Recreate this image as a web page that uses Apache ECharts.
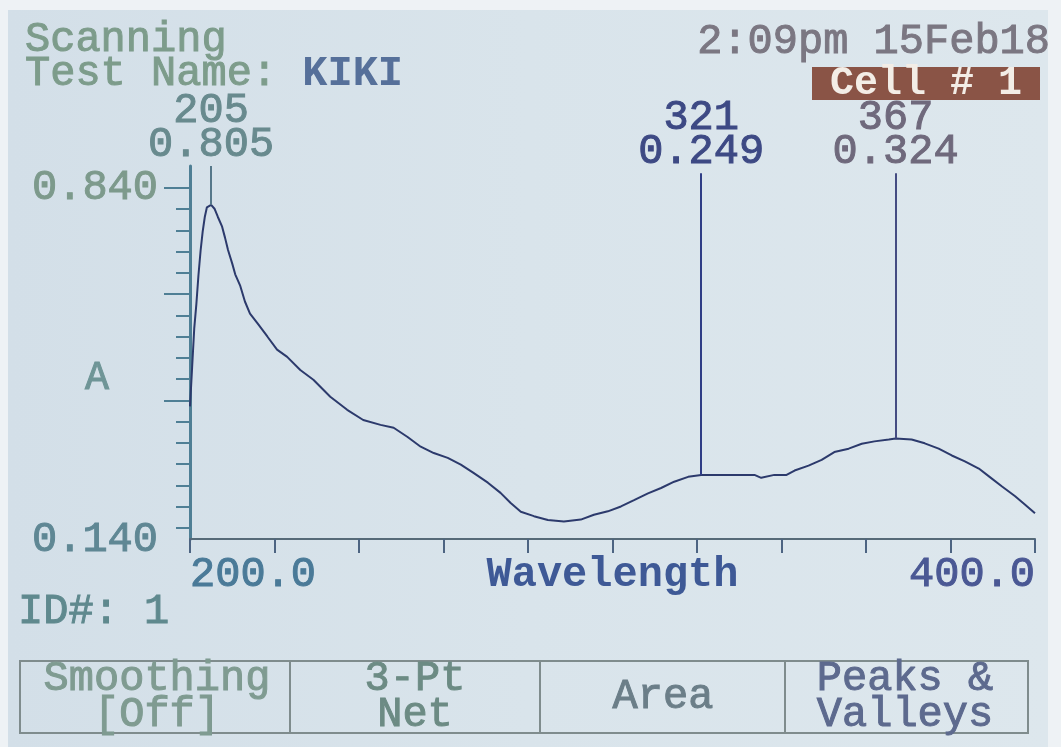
<!DOCTYPE html>
<html>
<head>
<meta charset="utf-8">
<title>Scanning - KIKI</title>
<script src="https://cdn.jsdelivr.net/npm/echarts@6/dist/echarts.min.js"></script>
<style>
  html, body { margin: 0; padding: 0; background: #eef2f5; }
  #chart { width: 1061px; height: 747px; }
</style>
</head>
<body>
<div id="chart"></div>
<script>
// Absorbance scan, 200-400 nm
const wavelengths = [
  200.0, 200.5, 201.0, 201.5, 202.0, 202.5, 203.0, 203.5, 204.0, 205.0,
  205.8, 206.6, 207.6, 208.3, 209.0, 210.0, 210.7, 211.9, 213.0, 214.2,
  215.9, 218.3, 220.6, 223.0, 226.1, 229.2, 233.2, 237.2, 241.0, 245.1,
  248.2, 251.5, 254.6, 257.7, 261.0, 264.1, 267.1, 270.5, 273.5, 275.9,
  278.3, 281.4, 284.7, 288.5, 292.5, 295.6, 298.9, 302.0, 305.1, 308.4,
  311.5, 314.6, 317.9, 321.0, 325.7, 330.5, 333.6, 335.2, 338.3, 341.2,
  343.1, 346.4, 349.5, 352.5, 355.9, 359.0, 362.0, 365.4, 367.0, 370.8,
  373.9, 377.2, 380.3, 383.4, 386.7, 389.1, 392.2, 395.3, 397.6, 400.0
];
const absorbance = [
  0.390, 0.470, 0.550, 0.600, 0.660, 0.710, 0.750, 0.780, 0.800, 0.805,
  0.797, 0.780, 0.760, 0.737, 0.712, 0.684, 0.662, 0.638, 0.606, 0.581,
  0.562, 0.534, 0.507, 0.492, 0.465, 0.445, 0.410, 0.383, 0.362, 0.352,
  0.346, 0.327, 0.307, 0.294, 0.284, 0.270, 0.253, 0.233, 0.212, 0.191,
  0.173, 0.164, 0.156, 0.153, 0.157, 0.167, 0.174, 0.184, 0.197, 0.211,
  0.222, 0.235, 0.245, 0.249, 0.249, 0.249, 0.249, 0.243, 0.249, 0.249,
  0.258, 0.268, 0.280, 0.296, 0.303, 0.313, 0.318, 0.322, 0.324, 0.322,
  0.314, 0.303, 0.289, 0.277, 0.262, 0.246, 0.225, 0.205, 0.188, 0.170
];

// Picked peaks
const peakWavelengths = [205, 321, 367];
const peakValues = [0.805, 0.249, 0.324];

// Axis ticks and labels
const yTickValues = [
  0.140, 0.18375, 0.2275, 0.27125, 0.315, 0.35875, 0.4025, 0.44625, 0.490,
  0.53375, 0.5775, 0.62125, 0.665, 0.70875, 0.7525, 0.79625, 0.840
];
const yMajorTickValues = [0.4025, 0.62125, 0.840];
const yLabelValues = [0.140, 0.840];
const xLabelValues = [200, 400];

// Screen texts
const scanTitle = 'Scanning';
const testName = 'KIKI';
const timeStamp = '2:09pm 15Feb18';
const cellLabel = 'Cell # 1';
const sampleId = 'ID#: 1';
const menuItems = ['Smoothing\n[Off]', '3-Pt\nNet', 'Area', 'Peaks &\nValleys'];

const FONT = '"Liberation Mono", "DejaVu Sans Mono", monospace';
const fontOf = (size, weight) => (weight ? weight + ' ' : '') + size + 'px ' + FONT;

const curve = wavelengths.map((w, i) => [w, absorbance[i]]);

// Marker line tops (axis units) and colours for each picked peak
const markerTops = [0.885, 0.870, 0.870];
const markerLineColors = ['#56788a', '#2f3d86', '#444c82'];
const markerLabelColors = ['#688a8e', '#3d4984', '#6f697c'];

// LCD-style text: a thin outline in the fill colour thickens the strokes
const lcd = (fill, extra) => Object.assign({ fill: fill, stroke: fill, lineWidth: 1 }, extra || {});

const chart = echarts.init(document.getElementById('chart'), null, { renderer: 'canvas' });

// Menu geometry
const menuLeft = 20, menuTop = 661, menuWidth = 1008, menuHeight = 72;
const menuDividers = [290, 540, 785];
const menuCenters = [157, 415, 663, 905];
const menuColors = ['#7f9b91', '#6c8b84', '#6b7e88', '#5d6a8e'];

const graphics = [
  // LCD panel
  {
    type: 'rect', z: -10, silent: true,
    shape: { x: 8, y: 10, width: 1040, height: 737 },
    style: {
      fill: new echarts.graphic.LinearGradient(0, 0, 1, 0, [
        { offset: 0, color: '#d3dfe8' },
        { offset: 0.5, color: '#d9e4eb' },
        { offset: 1, color: '#dde7ed' }
      ])
    }
  },
  {
    type: 'text', silent: true,
    style: lcd('#7d9c8b', { text: scanTitle, x: 25, y: 40, font: fontOf(42), textVerticalAlign: 'middle' })
  },
  {
    type: 'text', silent: true,
    style: {
      text: '{a|Test Name: }{b|' + testName + '}', x: 25, y: 74, textVerticalAlign: 'middle',
      font: fontOf(42),
      rich: {
        a: { font: fontOf(42), fill: '#7d9c8b', stroke: '#7d9c8b', lineWidth: 1 },
        b: { font: fontOf(42, 'bold'), fill: '#56709a' }
      }
    }
  },
  {
    type: 'text', silent: true,
    style: lcd('#7b7782', { text: timeStamp, x: 1050, y: 42, font: fontOf(42), textAlign: 'right', textVerticalAlign: 'middle' })
  },
  {
    type: 'rect', silent: true,
    shape: { x: 812, y: 67, width: 228, height: 33 },
    style: { fill: '#8a5446' }
  },
  {
    type: 'text', silent: true,
    style: { text: cellLabel, x: 926, y: 84, font: fontOf(40, 'bold'), fill: '#f3ede6', textAlign: 'center', textVerticalAlign: 'middle' }
  },
  {
    type: 'text', silent: true,
    style: lcd('#6f9597', { text: 'A', x: 97, y: 378, font: fontOf(40), textAlign: 'center', textVerticalAlign: 'middle' })
  },
  {
    type: 'text', silent: true,
    style: lcd('#5f898e', { text: sampleId, x: 18, y: 612, font: fontOf(42), textVerticalAlign: 'middle' })
  },
  {
    type: 'rect', silent: true,
    shape: { x: menuLeft, y: menuTop, width: menuWidth, height: menuHeight },
    style: { fill: 'none', stroke: '#7f8c8d', lineWidth: 2 }
  }
];
menuDividers.forEach(x => graphics.push({
  type: 'line', silent: true,
  shape: { x1: x, y1: menuTop, x2: x, y2: menuTop + menuHeight },
  style: { stroke: '#7f8c8d', lineWidth: 2 }
}));
menuItems.forEach((t, i) => graphics.push({
  type: 'text', silent: true,
  style: lcd(menuColors[i], {
    text: t, x: menuCenters[i], y: menuTop + menuHeight / 2,
    font: fontOf(42), lineHeight: 36,
    textAlign: 'center', textVerticalAlign: 'middle'
  })
}));

const option = {
  animation: false,
  backgroundColor: 'transparent',
  grid: { left: 190, right: 26, top: 166, bottom: 208, containLabel: false },
  xAxis: {
    type: 'value', min: 200, max: 400, interval: 20,
    axisLine: { show: true, onZero: false, lineStyle: { color: '#566a78', width: 2 } },
    axisTick: { show: true, length: 14, lineStyle: { color: '#4d6482', width: 2 } },
    splitLine: { show: false },
    axisLabel: {
      customValues: xLabelValues,
      margin: 15,
      alignMinLabel: 'left',
      alignMaxLabel: 'right',
      formatter: v => (v === 200 ? '{lo|' : '{hi|') + v.toFixed(1) + '}',
      rich: {
        lo: { fontFamily: FONT, fontSize: 42, color: '#4a7a98', textBorderColor: '#4a7a98', textBorderWidth: 1 },
        hi: { fontFamily: FONT, fontSize: 42, color: '#4a5894', textBorderColor: '#4a5894', textBorderWidth: 1 }
      }
    },
    name: 'Wavelength',
    nameLocation: 'middle',
    nameGap: 15,
    nameMoveOverlap: false,
    nameTextStyle: { fontFamily: FONT, fontSize: 42, color: '#3e5996', fontWeight: 'bold', verticalAlign: 'top' }
  },
  yAxis: [
    {
      type: 'value', min: 0.117, max: 0.885, position: 'left',
      axisLine: { show: true, onZero: false, lineStyle: { color: '#4f7f95', width: 3 } },
      axisTick: { show: true, inside: false, length: 14, customValues: yTickValues, lineStyle: { color: '#4f7f95', width: 2 } },
      splitLine: { show: false },
      axisLabel: {
        customValues: yLabelValues,
        margin: 32,
        formatter: v => (v < 0.5 ? '{lo|' : '{hi|') + v.toFixed(3) + '}',
        rich: {
          lo: { fontFamily: FONT, fontSize: 42, color: '#5f8794', textBorderColor: '#5f8794', textBorderWidth: 1, padding: [24, 0, 0, 0] },
          hi: { fontFamily: FONT, fontSize: 42, color: '#7d9a8c', textBorderColor: '#7d9a8c', textBorderWidth: 1 }
        }
      }
    },
    {
      type: 'value', min: 0.117, max: 0.885, position: 'left',
      axisLine: { show: false },
      axisTick: { show: true, inside: false, length: 26, customValues: yMajorTickValues, lineStyle: { color: '#4f7f95', width: 2 } },
      axisLabel: { show: false },
      splitLine: { show: false }
    }
  ],
  series: [{
    type: 'line',
    yAxisIndex: 0,
    data: curve,
    showSymbol: false,
    symbol: 'none',
    silent: true,
    lineStyle: { color: '#2c3a6c', width: 2 },
    markLine: {
      silent: true,
      symbol: 'none',
      animation: false,
      data: peakWavelengths.map((w, i) => [
        {
          coord: [w, peakValues[i]],
          lineStyle: { color: markerLineColors[i], width: 2, type: 'solid' },
          label: {
            show: true, position: 'end', distance: 4,
            formatter: w + '\n' + peakValues[i].toFixed(3),
            fontFamily: FONT, fontSize: 42, lineHeight: 34,
            color: markerLabelColors[i], align: 'center',
            textBorderColor: markerLabelColors[i], textBorderWidth: 1
          }
        },
        { coord: [w, markerTops[i]] }
      ])
    }
  }],
  graphic: graphics
};

chart.setOption(option);
</script>
</body>
</html>
